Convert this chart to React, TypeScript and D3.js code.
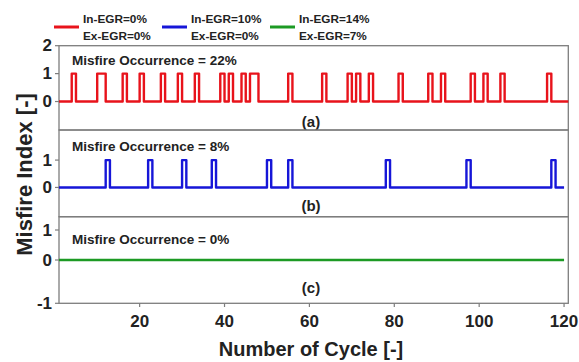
import * as d3 from "d3";
import React from "react";

// cycles (1..N) at which a misfire was recorded
const redMisfires = [4, 10, 11, 16, 20, 25, 29, 33, 39, 41, 44, 46, 47, 55, 63, 69, 71, 74, 81, 88, 91, 98, 101, 105, 116];
const blueMisfires = [12, 22, 30, 37, 50, 55, 78, 97, 117];
const greenMisfires: number[] = [];

const seriesEnd = [121, 120, 120];
const occurrence = ["Misfire Occurrence = 22%", "Misfire Occurrence = 8%", "Misfire Occurrence = 0%"];
const panelTags = ["(a)", "(b)", "(c)"];
const legendTop = ["In-EGR=0%", "In-EGR=10%", "In-EGR=14%"];
const legendBottom = ["Ex-EGR=0%", "Ex-EGR=0%", "Ex-EGR=7%"];
const colors = ["#e8131b", "#1616d8", "#1c9a24"];
const xTicks = [20, 40, 60, 80, 100, 120];
const yTicks = [[0, 1, 2], [0, 1], [-1, 0, 1]];

const W = 579;
const H = 362;
const left = 59;
const right = 568.3;
const font = "'Liberation Sans', Arial, sans-serif";
const frame = "#7d7d7d";

export default function App() {
  const x = d3.scaleLinear().domain([1, 121]).range([left, right]);

  const yScales = [
    d3.scaleLinear().domain([-1.02, 2]).range([130, 45.7]),
    d3.scaleLinear().domain([-1.07, 2.1]).range([216.7, 130]),
    d3.scaleLinear().domain([-1, 0, 1, 1.45]).range([303.3, 260, 230, 216.7]),
  ];
  const bounds = [
    [45.7, 130],
    [130, 216.7],
    [216.7, 303.3],
  ];
  const misfires = [redMisfires, blueMisfires, greenMisfires];

  return (
    <div style={{ position: "absolute", left: 0, top: 0 }}>
      <svg width={W} height={H} style={{ display: "block", background: "#fff" }}>
        {/* legend */}
        {legendTop.map((t, i) => {
          const lx = [54, 162, 270][i];
          return (
            <g key={t}>
              <line x1={lx} x2={lx + 25} y1={27} y2={27} stroke={colors[i]} strokeWidth={3} />
              <text x={lx + 29} y={19} fontFamily={font} fontWeight="bold" fontSize={11.8} fill="#222" dominantBaseline="central">
                {t}
              </text>
              <text x={lx + 29} y={35.5} fontFamily={font} fontWeight="bold" fontSize={11.8} fill="#222" dominantBaseline="central">
                {legendBottom[i]}
              </text>
            </g>
          );
        })}

        {misfires.map((m, i) => {
          const y = yScales[i];
          const pts = d3.range(1, seriesEnd[i] + 1).map((c) => [c, m.includes(c) ? 1 : 0] as [number, number]);
          const line = d3
            .line<[number, number]>()
            .x((d) => x(d[0]))
            .y((d) => y(d[1]))
            .curve(d3.curveStepAfter);
          const [top, bottom] = bounds[i];
          return (
            <g key={i}>
              <rect x={left} y={top} width={right - left} height={bottom - top} fill="none" stroke={frame} strokeWidth={1.3} />
              <path d={line(pts) || ""} fill="none" stroke={colors[i]} strokeWidth={2.4} strokeLinejoin="round" />
              {yTicks[i].map((v) => (
                <g key={v}>
                  <line x1={left - 4} x2={left} y1={y(v)} y2={y(v)} stroke={frame} strokeWidth={1.2} />
                  <text x={52} y={y(v)} textAnchor="end" dominantBaseline="central" fontFamily={font} fontWeight="bold" fontSize={17} fill="#222">
                    {v}
                  </text>
                </g>
              ))}
              <text x={72} y={[60, 146, 239][i]} dominantBaseline="central" fontFamily={font} fontWeight="bold" fontSize={13.5} fill="#222">
                {occurrence[i]}
              </text>
              <text x={311} y={[121, 205, 287][i]} textAnchor="middle" dominantBaseline="central" fontFamily={font} fontWeight="bold" fontSize={15} fill="#222">
                {panelTags[i]}
              </text>
            </g>
          );
        })}

        {/* x axis */}
        {xTicks.map((t) => (
          <g key={t}>
            <line x1={x(t)} x2={x(t)} y1={303.3} y2={307} stroke={frame} strokeWidth={1.2} />
            <text x={x(t)} y={321} textAnchor="middle" dominantBaseline="central" fontFamily={font} fontWeight="bold" fontSize={17} fill="#222">
              {t}
            </text>
          </g>
        ))}
        <text x={311} y={349} textAnchor="middle" dominantBaseline="central" fontFamily={font} fontWeight="bold" fontSize={20} fill="#222">
          Number of Cycle [-]
        </text>
        <text
          transform={`translate(24,174.5) rotate(-90)`}
          textAnchor="middle"
          dominantBaseline="central"
          fontFamily={font}
          fontWeight="bold"
          fontSize={22}
          fill="#222"
        >
          Misfire Index [-]
        </text>
      </svg>
    </div>
  );
}
